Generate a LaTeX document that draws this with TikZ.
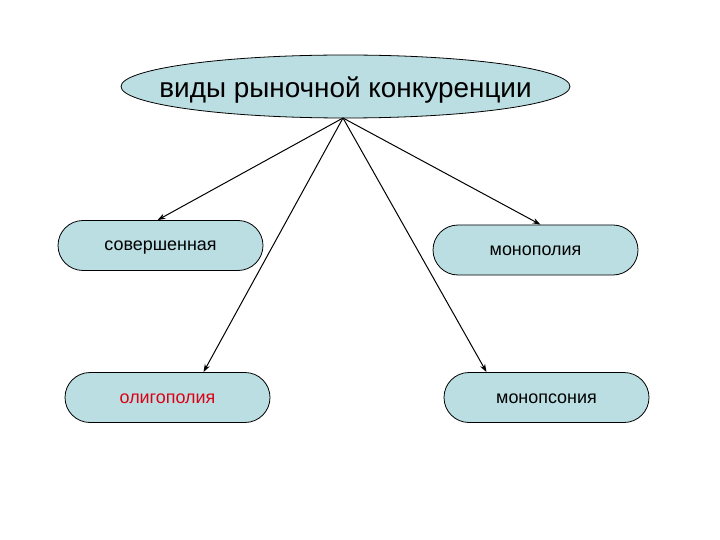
\documentclass[tikz,border=0pt]{standalone}
\usepackage{fontspec}
\setmainfont{Liberation Sans}
\usetikzlibrary{shapes.geometric,arrows.meta}
\definecolor{boxfill}{RGB}{186,222,226}
\definecolor{oligred}{RGB}{220,0,20}
\newcommand{\lowerby}[2]{\raisebox{-#1}[\height][\depth]{#2}}
\tikzset{
  topbox/.style={ellipse, draw=black, line width=0.8pt, fill=boxfill,
    minimum width=449bp, minimum height=63bp, inner sep=0pt, font=\fontsize{28}{30}\selectfont},
  kindbox/.style={rectangle, rounded corners=25bp, draw=black, line width=0.8pt, fill=boxfill,
    minimum width=205bp, minimum height=50bp, inner sep=0pt, font=\fontsize{18}{20}\selectfont},
  link/.style={line width=1pt, -{Stealth[length=8bp,width=5.5bp]}}
}
\begin{document}
\begin{tikzpicture}[x=1bp,y=-1bp]
\useasboundingbox (0,0) rectangle (720,540);
\node[topbox] (top) at (345.5,86.5) {\makebox[0pt]{\lowerby{4bp}{виды рыночной конкуренции}}};
\coordinate (apex) at (343,118);
\node[kindbox] (sov) at (160.5,245.5) {\lowerby{2.5bp}{совершенная}};
\node[kindbox] (mono) at (535.5,250) {\lowerby{1bp}{монополия}};
\node[kindbox] (olig) at (167.5,397.5) {\lowerby{1.5bp}{\textcolor{oligred}{олигополия}}};
\node[kindbox] (mops) at (546.5,397.5) {\lowerby{1.5bp}{монопсония}};
\draw[link] (apex) -- ([xshift=-3bp]sov.north);
\draw[link] (apex) -- ([xshift=5bp]mono.north);
\draw[link] (apex) -- ([xshift=36bp]olig.north);
\draw[link] (apex) -- ([xshift=-60bp]mops.north);
\end{tikzpicture}
\end{document}
